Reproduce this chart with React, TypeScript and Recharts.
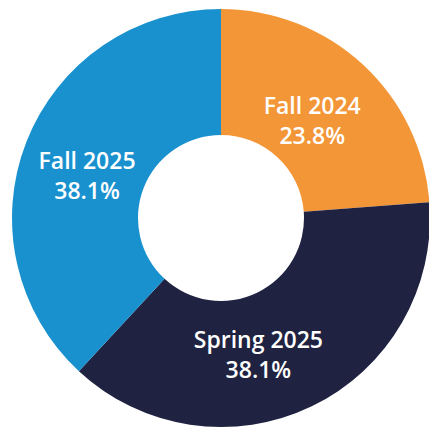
import React from "react";
import { PieChart, Pie, Cell } from "recharts";

const terms = ["Fall 2024", "Spring 2025", "Fall 2025"];
const shares = [23.8, 38.1, 38.1];
const colors = ["#F39638", "#1F2341", "#1A91CF"];

// nudges for label placement relative to the slice midpoint
const labelNudge = [
  { dx: -8, dy: 7 },
  { dx: -26, dy: 2.5 },
  { dx: 2, dy: 8 },
];

const data = terms.map((term, i) => ({ term, share: shares[i] }));

const RADIAN = Math.PI / 180;

function renderLabel(props: any) {
  const { cx, cy, midAngle, innerRadius, outerRadius, index } = props;
  const r = (innerRadius + outerRadius) / 2;
  const x = cx + r * Math.cos(-midAngle * RADIAN) + labelNudge[index].dx;
  const y = cy + r * Math.sin(-midAngle * RADIAN) + labelNudge[index].dy;
  return (
    <text
      x={x}
      y={y}
      fill="#ffffff"
      textAnchor="middle"
      fontFamily="'Open Sans', sans-serif"
      fontWeight={600}
      fontSize={23}
    >
      <tspan x={x} y={y - 4}>{data[index].term}</tspan>
      <tspan x={x} y={y + 26}>{data[index].share.toFixed(1)}%</tspan>
    </text>
  );
}

export default function App() {
  return (
    <div style={{ position: "fixed", left: 0, top: 0, width: 429, height: 429, background: "#fff" }}>
      <PieChart width={429} height={429} margin={{ top: 0, right: 0, bottom: 0, left: 0 }}>
        <Pie
          data={data}
          dataKey="share"
          nameKey="term"
          cx={221}
          cy={218}
          innerRadius={83}
          outerRadius={209}
          startAngle={90}
          endAngle={-270}
          stroke="none"
          label={renderLabel}
          labelLine={false}
          isAnimationActive={false}
        >
          {data.map((d, i) => (
            <Cell key={d.term} fill={colors[i]} />
          ))}
        </Pie>
      </PieChart>
    </div>
  );
}
